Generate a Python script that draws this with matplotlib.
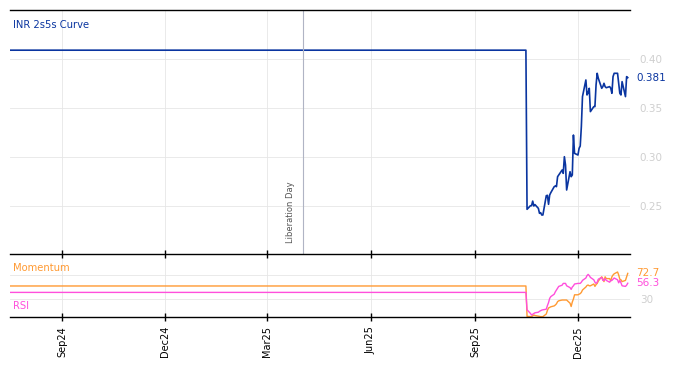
import numpy as np
import pandas as pd
import matplotlib
matplotlib.use("Agg")
import matplotlib.pyplot as plt
import matplotlib.dates as mdates
from matplotlib.ticker import FixedLocator

# ---------------- data ----------------
flat_start = "2024-07-17"
flat_end = "2025-10-16"
recent_start = "2025-10-17"

curve_flat = 0.409
momentum_flat = 51.7
rsi_flat = 41.0

curve_recent = [0.2466, 0.2503, 0.2503, 0.2550, 0.2500, 0.2514, 0.2476, 0.2425,
                0.2432, 0.2408, 0.2408, 0.2605, 0.2609, 0.2517, 0.2612, 0.2636,
                0.2697, 0.2704, 0.2697, 0.2799, 0.2816, 0.2867, 0.2833, 0.3003,
                0.2918, 0.2663, 0.2850, 0.2799, 0.2816, 0.3224, 0.3037, 0.3020,
                0.3088, 0.3112, 0.3310, 0.3616, 0.3786, 0.3633, 0.3656, 0.3701,
                0.3463, 0.3514, 0.3514, 0.3735, 0.3854, 0.3803, 0.3701, 0.3718,
                0.3752, 0.3718, 0.3707, 0.3718, 0.3701, 0.3650, 0.3820, 0.3854,
                0.3854, 0.3752, 0.3650, 0.3633, 0.3769, 0.3616, 0.3820, 0.3810]

momentum_recent = [1, 0.6, 0.6, 2, 3.3, 2.5, 1.5, 1, 0.6, 0.6, 0.6, 5, 11, 15, 16, 17,
                   18.5, 20, 22, 25.6, 27, 28.3, 28.3, 28.3, 28.3, 28.3, 23, 17.5, 25, 30,
                   37, 37, 38, 39, 41, 45, 50, 52.5, 53.3, 52, 52, 55, 51, 54, 56, 60,
                   67, 64, 59, 67, 64, 64, 60, 67, 70, 72, 75, 70, 63, 62, 59, 61, 67, 72.7]

rsi_recent = [12, 6, 3.3, 4.5, 5.5, 7, 8, 9.5, 10.5, 11.5, 12, 13, 19, 24, 31, 34,
              38, 42, 45, 48, 51, 53, 56, 56, 56, 52, 49, 46, 50, 52, 55, 56,
              56, 56, 58, 61, 65, 69, 71, 69, 66, 62, 58, 56, 58, 63, 66, 61,
              61, 64, 61, 58, 61, 61, 63, 65, 62, 57, 61, 57, 52, 51, 53, 56.3]

event_date = "2025-04-02"
event_label = "Liberation Day"
x_ticks = ["2024-09-01", "2024-12-01", "2025-03-01", "2025-06-01", "2025-09-01", "2025-12-01"]
x_ticklabels = ["Sep24", "Dec24", "Mar25", "Jun25", "Sep25", "Dec25"]
top_yticks = [0.25, 0.30, 0.35, 0.40]
bot_yticks = [30, 70]

# ---------------- build series ----------------
flat_dates = pd.bdate_range(flat_start, flat_end)
recent_dates = pd.bdate_range(recent_start, periods=len(curve_recent))
dates = flat_dates.append(recent_dates)
curve = np.concatenate([np.full(len(flat_dates), curve_flat), curve_recent])
momentum = np.concatenate([np.full(len(flat_dates), momentum_flat), momentum_recent])
rsi = np.concatenate([np.full(len(flat_dates), rsi_flat), rsi_recent])

BLUE = "#0a35a0"
ORANGE = "#ff9a33"
MAGENTA = "#ff4fdc"
GRID = "#e6e6e6"
TICKGRAY = "#cfcfcf"

fig = plt.figure(figsize=(6.74, 3.66), dpi=100)
W, H = 674, 366
ax = fig.add_axes([10 / W, 1 - 254 / H, 620 / W, 244 / H])
ax2 = fig.add_axes([10 / W, 1 - 317 / H, 620 / W, 63 / H], sharex=ax)
ax2.patch.set_alpha(0)

xmin = pd.Timestamp("2024-07-17")
xmax = pd.Timestamp("2026-01-16")

# top panel
ax.plot(dates, curve, color=BLUE, lw=1.2)
ax.set_xlim(xmin, xmax)
ax.set_ylim(0.201, 0.45)
ax.yaxis.tick_right()
ax.set_yticks(top_yticks)
ax.set_yticklabels([f"{v:.2f}" for v in top_yticks])
ax.tick_params(axis="y", length=0, pad=7, labelcolor=TICKGRAY, labelsize=7.5)
ax.tick_params(axis="x", which="both", length=0, labelbottom=False)
ax.xaxis.set_major_locator(FixedLocator(mdates.date2num(pd.to_datetime(x_ticks))))
ax.grid(True, color=GRID, lw=0.6)
for s in ["left", "right", "bottom"]:
    ax.spines[s].set_visible(False)
ax.spines["top"].set_linewidth(1.0)
ax.text(0.005, 0.938, "INR 2s5s Curve", transform=ax.transAxes, color=BLUE,
        fontsize=7.2, ha="left", va="center")
ax.text(1.01, curve[-1], f"{curve[-1]:.3f}", transform=ax.get_yaxis_transform(),
        color=BLUE, fontsize=7.5, ha="left", va="center")

ev = pd.Timestamp(event_date)
ax.axvline(ev, color="#b0b4c4", lw=0.8)
ax.annotate(event_label, xy=(ev, 0), xycoords=("data", "axes fraction"),
            xytext=(-6, 8), textcoords="offset points", rotation=90,
            ha="right", va="bottom", fontsize=6, color="#555555")

# bottom panel
ax2.plot(dates, momentum, color=ORANGE, lw=1.0)
ax2.plot(dates, rsi, color=MAGENTA, lw=1.0)
ax2.set_ylim(0, 105)
ax2.yaxis.tick_right()
ax2.set_yticks(bot_yticks)
ax2.set_yticklabels(["30", ""])
ax2.tick_params(axis="y", length=0, pad=7, labelcolor=TICKGRAY, labelsize=7.5)
ax2.set_xticks(mdates.date2num(pd.to_datetime(x_ticks)))
ax2.set_xticklabels(x_ticklabels, rotation=90, fontsize=7)
ax2.tick_params(axis="x", direction="inout", length=6, top=True, width=1.0)
ax2.grid(True, color=GRID, lw=0.6)
for s in ["left", "right"]:
    ax2.spines[s].set_visible(False)
ax2.spines["bottom"].set_linewidth(1.0)
ax2.spines["top"].set_linewidth(1.0)
ax2.text(0.005, 0.778, "Momentum", transform=ax2.transAxes, color=ORANGE,
         fontsize=7.2, ha="left", va="center")
ax2.text(0.005, 0.175, "RSI", transform=ax2.transAxes, color=MAGENTA,
         fontsize=7.2, ha="left", va="center")
ax2.text(1.01, momentum[-1], f"{momentum[-1]:.1f}", transform=ax2.get_yaxis_transform(),
         color=ORANGE, fontsize=7.5, ha="left", va="center")
ax2.text(1.01, rsi[-1], f"{rsi[-1]:.1f}", transform=ax2.get_yaxis_transform(),
         color=MAGENTA, fontsize=7.5, ha="left", va="center")

fig.savefig("out.png", dpi=100)
